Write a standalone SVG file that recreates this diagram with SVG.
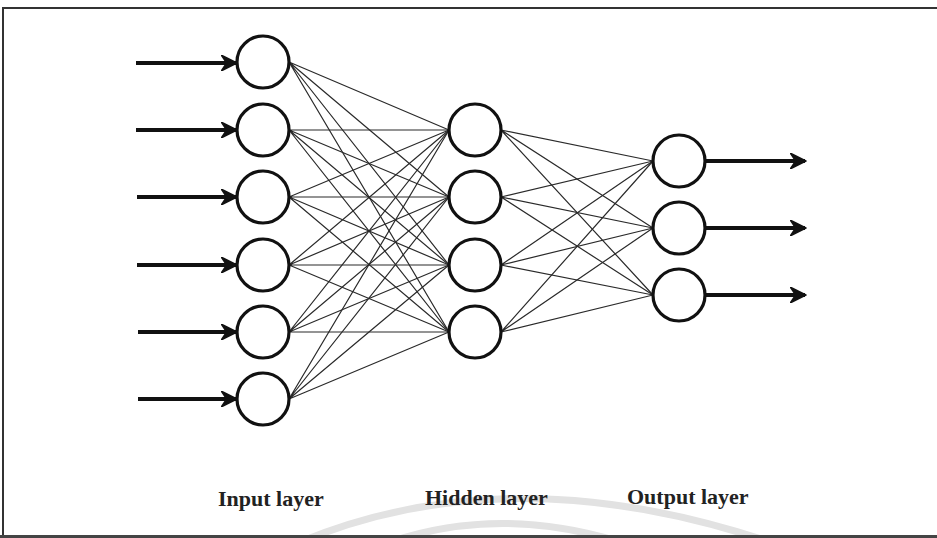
<svg xmlns="http://www.w3.org/2000/svg" width="937" height="538" viewBox="0 0 937 538">
<style>
.node{fill:#fff;stroke:#111;stroke-width:3.2}
.edge{stroke:#2a2a2a;stroke-width:1.2;fill:none}
.io{stroke:#111;stroke-width:4;fill:none}
.lbl{font-family:"Liberation Serif",serif;font-weight:bold;font-size:22px;fill:#222}
.wm{stroke:#e2e2e2;stroke-width:7;fill:none}
</style>
<defs>
<marker id="ah" viewBox="0 0 10 10" refX="9" refY="5" markerWidth="4.2" markerHeight="4.2" orient="auto" markerUnits="strokeWidth">
<path d="M0.5,0.5 L9.5,5 L0.5,9.5 L3.5,5 z" fill="#111" stroke="#111" stroke-width="1" stroke-linejoin="round"/>
</marker>
</defs>
<rect width="937" height="538" fill="#fff"/>
<path class="wm" d="M300 542 Q 510 455 770 542"/>
<path class="wm" d="M390 542 Q 500 505 620 542"/>
<path d="M3 540 V8 H940" stroke="#333" stroke-width="2" fill="none"/>
<line x1="0" y1="536.5" x2="937" y2="536.5" stroke="#444" stroke-width="3"/>
<g id="connectors">
<g class="edge">
<path d="M289 62 L449 130 M289 62 L449 197 M289 62 L449 265 M289 62 L449 332"/>
<path d="M289 130 L449 130 M289 130 L449 197 M289 130 L449 265 M289 130 L449 332"/>
<path d="M289 197 L449 130 M289 197 L449 197 M289 197 L449 265 M289 197 L449 332"/>
<path d="M289 265 L449 130 M289 265 L449 197 M289 265 L449 265 M289 265 L449 332"/>
<path d="M289 332 L449 130 M289 332 L449 197 M289 332 L449 265 M289 332 L449 332"/>
<path d="M289 399 L449 130 M289 399 L449 197 M289 399 L449 265 M289 399 L449 332"/>
<path d="M501 130 L653 161 M501 130 L653 228 M501 130 L653 295"/>
<path d="M501 197 L653 161 M501 197 L653 228 M501 197 L653 295"/>
<path d="M501 265 L653 161 M501 265 L653 228 M501 265 L653 295"/>
<path d="M501 332 L653 161 M501 332 L653 228 M501 332 L653 295"/>
</g>
<g class="io" marker-end="url(#ah)">
<line x1="136" y1="63" x2="236" y2="63"/>
<line x1="136" y1="130" x2="236" y2="130"/>
<line x1="137" y1="197" x2="236" y2="197"/>
<line x1="137" y1="265" x2="236" y2="265"/>
<line x1="138" y1="332" x2="236" y2="332"/>
<line x1="138" y1="399" x2="236" y2="399"/>
<line x1="705" y1="161" x2="805" y2="161"/>
<line x1="705" y1="228" x2="805" y2="228"/>
<line x1="705" y1="295" x2="805" y2="295"/>
</g>
</g>
<g id="input-layer">
<g id="in1"><circle class="node" cx="263" cy="62" r="26"/></g>
<g id="in2"><circle class="node" cx="263" cy="130" r="26"/></g>
<g id="in3"><circle class="node" cx="263" cy="197" r="26"/></g>
<g id="in4"><circle class="node" cx="263" cy="265" r="26"/></g>
<g id="in5"><circle class="node" cx="263" cy="332" r="26"/></g>
<g id="in6"><circle class="node" cx="263" cy="399" r="26"/></g>
</g>
<g id="hidden-layer">
<g id="h1"><circle class="node" cx="475" cy="130" r="26"/></g>
<g id="h2"><circle class="node" cx="475" cy="197" r="26"/></g>
<g id="h3"><circle class="node" cx="475" cy="265" r="26"/></g>
<g id="h4"><circle class="node" cx="475" cy="332" r="26"/></g>
</g>
<g id="output-layer">
<g id="o1"><circle class="node" cx="679" cy="161" r="26"/></g>
<g id="o2"><circle class="node" cx="679" cy="228" r="26"/></g>
<g id="o3"><circle class="node" cx="679" cy="295" r="26"/></g>
</g>
<g id="labels">
<text class="lbl" x="218" y="506">Input layer</text>
<text class="lbl" x="425" y="505">Hidden layer</text>
<text class="lbl" x="627" y="504">Output layer</text>
</g>
</svg>
